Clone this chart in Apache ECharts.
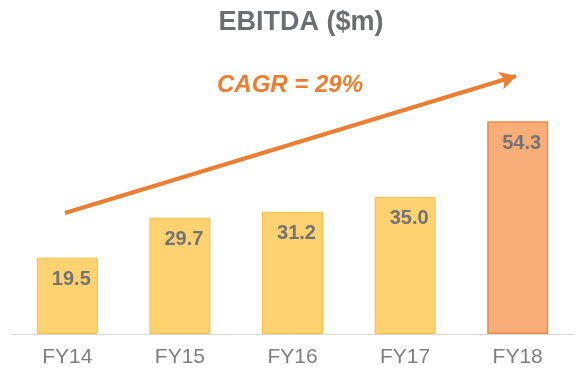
<!DOCTYPE html>
<html>
<head>
<meta charset="utf-8">
<script src="https://cdn.jsdelivr.net/npm/echarts@6/dist/echarts.min.js"></script>
<style>
html,body{margin:0;padding:0;background:#fff;}
#c{width:581px;height:370px;}
</style>
</head>
<body>
<div id="c"></div>
<script>
const categories = ['FY14', 'FY15', 'FY16', 'FY17', 'FY18'];
const ebitda = [19.5, 29.7, 31.2, 35.0, 54.3];
const titleText = 'EBITDA ($m)';
const cagrText = 'CAGR = 29%';

const baseFill = '#FED270';
const baseBorder = '#F6BF4A';
const lastFill = '#F9AD79';
const lastBorder = '#EF8A4B';

const chart = echarts.init(document.getElementById('c'), null, {renderer: 'canvas'});
const font = '"Liberation Sans", Arial, sans-serif';

chart.setOption({
  animation: false,
  backgroundColor: '#ffffff',
  title: {
    text: titleText,
    left: 296, top: 4,
    textAlign: 'center',
    textStyle: {fontFamily: font, fontSize: 27, fontWeight: 'bold', color: '#6d6e71'}
  },
  grid: {left: 11, right: 7, top: 99, bottom: 36},
  xAxis: {
    type: 'category',
    data: categories,
    axisLine: {lineStyle: {color: '#d9d9d9', width: 1}},
    axisTick: {show: false},
    axisLabel: {fontFamily: font, fontSize: 21, color: '#7f7f7f', margin: 13}
  },
  yAxis: {
    type: 'value', min: 0, max: 60, show: false,
    splitLine: {show: false}
  },
  graphic: [
    {
      type: 'text', left: 217, top: 73,
      style: {text: cagrText, font: 'italic bold 24px ' + font, fill: '#ED7D31'}
    }
  ],
  series: [{
    type: 'bar',
    data: ebitda.map((v, i) => ({
      value: v,
      itemStyle: i === ebitda.length - 1
        ? {color: lastFill, borderColor: lastBorder, borderWidth: 1.5}
        : {color: baseFill, borderColor: baseBorder, borderWidth: 1}
    })),
    barWidth: 61,
    label: {
      show: true, position: 'insideTop', distance: 12, offset: [4, 0],
      formatter: p => p.value.toFixed(1),
      fontFamily: font, fontSize: 20, fontWeight: 'bold', color: '#737373'
    },
    markLine: {
      silent: true,
      symbol: ['none', 'arrow'],
      symbolSize: [14, 16],
      label: {show: false},
      lineStyle: {color: '#ED7D31', width: 4, type: 'solid'},
      data: [[{x: 65, y: 213}, {x: 516, y: 76}]]
    }
  }]
});
</script>
</body>
</html>
